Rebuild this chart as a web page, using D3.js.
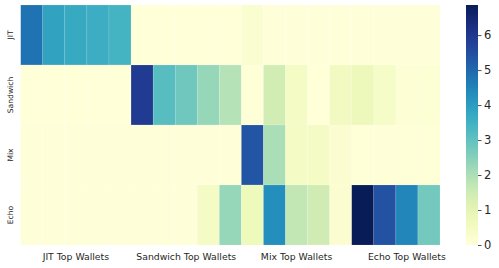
<!DOCTYPE html>
<html>
<head>
<meta charset="utf-8">
<script src="https://cdn.jsdelivr.net/npm/d3@7"></script>
<style>
  body { margin: 0; background: #fff; }
  text { font-family: "DejaVu Sans", sans-serif; fill: #262626; }
</style>
</head>
<body>
<div id="chart"></div>
<script>
// rows of the heatmap
const rowLabels = ['JIT', 'Sandwich', 'Mix', 'Echo'];
// column groups (JIT, Sandwich, Mix: 5 wallets each, Echo: 4)
const groupLabels = ['JIT Top Wallets', 'Sandwich Top Wallets', 'Mix Top Wallets', 'Echo Top Wallets'];
const groupTickPos = [2.5, 7.5, 12.5, 17.5];
const nCols = 19;

// values, one array per row
const jitRow      = [4.8, 3.85, 3.7, 3.6, 3.45, 0.02, 0.02, 0.02, 0.02, 0.02, 0.22, 0.03, 0.03, 0.03, 0.03, 0.03, 0.03, 0.03, 0.03];
const sandwichRow = [0.02, 0.02, 0.02, 0.02, 0.02, 5.9, 3.15, 2.8, 2.3, 1.9, 0.04, 1.45, 0.45, 0.02, 0.55, 0.75, 0.4, 0.1, 0.12];
const mixRow      = [0.03, 0.03, 0.03, 0.03, 0.03, 0.03, 0.03, 0.03, 0.03, 0.03, 5.35, 2.05, 0.45, 0.45, 0.2, 0.05, 0.05, 0.05, 0.05];
const echoRow     = [0.03, 0.03, 0.03, 0.03, 0.03, 0.03, 0.03, 0.03, 0.45, 2.3, 0.7, 4.3, 1.7, 1.47, 0.19, 6.86, 5.4, 4.45, 2.75];
const rows = [jitRow, sandwichRow, mixRow, echoRow];

const vmax = 6.86;
const cbarTicks = [0, 1, 2, 3, 4, 5, 6];

const width = 499, height = 268;
const margin = {top: 5, left: 20.7, right: 59, bottom: 23};

const svg = d3.select('#chart').append('svg')
  .attr('width', width).attr('height', height);

const x = d3.scaleBand().domain(d3.range(nCols)).range([margin.left, 440]);
const xPos = d3.scaleLinear().domain([0, nCols]).range([margin.left, 440]);
const y = d3.scaleBand().domain(rowLabels).range([margin.top, height - margin.bottom]);
const color = d3.scaleSequential(d3.interpolateYlGnBu).domain([0, vmax]);

const cells = [];
rows.forEach((r, i) => r.forEach((v, j) => cells.push({row: rowLabels[i], col: j, v: v})));

svg.append('g').attr('class', 'cells')
  .selectAll('rect')
  .data(cells)
  .enter().append('rect')
  .attr('x', d => x(d.col))
  .attr('y', d => y(d.row))
  .attr('width', x.bandwidth())
  .attr('height', y.bandwidth())
  .attr('fill', d => color(d.v))
  .attr('stroke', 'rgba(255,255,255,0.3)')
  .attr('stroke-width', 0.4);

// row labels
svg.append('g').selectAll('text')
  .data(rowLabels)
  .enter().append('text')
  .attr('transform', d => `translate(13, ${y(d) + y.bandwidth() / 2}) rotate(-90)`)
  .attr('text-anchor', 'middle')
  .style('font-size', '7.6px')
  .text(d => d);

// column group labels
svg.append('g').selectAll('text')
  .data(groupLabels)
  .enter().append('text')
  .attr('x', (d, i) => xPos(groupTickPos[i]))
  .attr('y', 260)
  .attr('text-anchor', 'middle')
  .style('font-size', '9.3px')
  .text(d => d);

// colorbar
const cbX = 466, cbW = 12;
const cbY = d3.scaleLinear().domain([0, vmax]).range([height - margin.bottom, margin.top]);
const defs = svg.append('defs');
const grad = defs.append('linearGradient').attr('id', 'cbar')
  .attr('x1', 0).attr('y1', 1).attr('x2', 0).attr('y2', 0);
d3.range(0, 1.0001, 0.05).forEach(t => {
  grad.append('stop').attr('offset', t).attr('stop-color', d3.interpolateYlGnBu(t));
});
svg.append('rect')
  .attr('x', cbX).attr('y', margin.top)
  .attr('width', cbW).attr('height', height - margin.bottom - margin.top)
  .attr('fill', 'url(#cbar)');

const cbAxis = svg.append('g')
  .attr('transform', `translate(${cbX + cbW}, 0)`)
  .call(d3.axisRight(cbY).tickValues(cbarTicks).tickFormat(d3.format('d')).tickSize(3.5).tickPadding(2.5));
cbAxis.select('.domain').remove();
cbAxis.selectAll('line').attr('stroke', '#262626').attr('stroke-width', 0.8);
cbAxis.selectAll('text').style('font-size', '11.5px').attr('fill', '#262626')
  .style('font-family', '"DejaVu Sans", sans-serif');
</script>
</body>
</html>
